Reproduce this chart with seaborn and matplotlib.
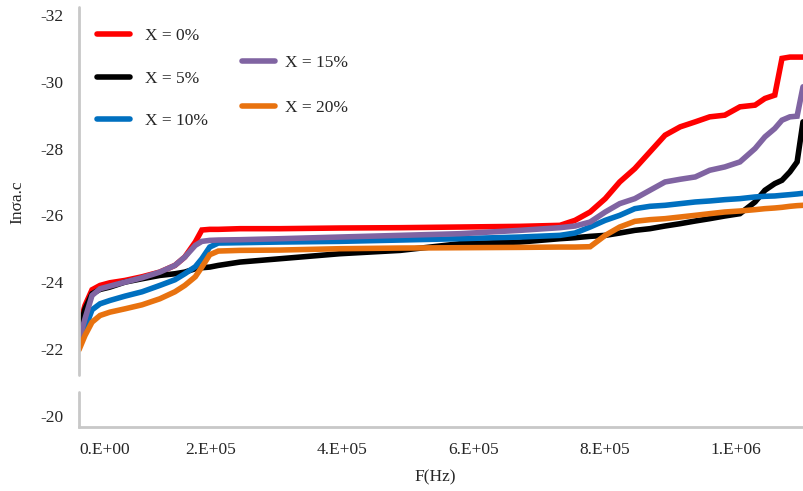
import numpy as np
import pandas as pd
import matplotlib
matplotlib.use("Agg")
import matplotlib.pyplot as plt
from matplotlib.lines import Line2D
import seaborn as sns

# ---------------- data ----------------
freq = [0, 9.1e3, 1.98e4, 3.2e4, 4.7e4, 7.0e4, 9.6e4, 1.23e5, 1.46e5, 1.61e5,
        1.77e5, 1.87e5, 1.99e5, 2.12e5, 2.45e5, 3.06e5, 3.97e5, 4.89e5, 5.80e5, 6.71e5,
        7.32e5, 7.55e5, 7.78e5, 8.01e5, 8.23e5, 8.46e5, 8.69e5, 8.92e5, 9.15e5, 9.38e5,
        9.60e5, 9.83e5, 1.006e6, 1.029e6, 1.044e6, 1.059e6, 1.070e6, 1.082e6, 1.093e6, 1.102e6]

x0 = [-22.66, -23.3, -23.77, -23.9, -23.98, -24.05, -24.16, -24.3, -24.5, -24.75,
      -25.2, -25.56, -25.58, -25.58, -25.6, -25.6, -25.62, -25.63, -25.65, -25.67,
      -25.7, -25.85, -26.1, -26.5, -27.0, -27.4, -27.9, -28.4, -28.65, -28.8,
      -28.95, -29.0, -29.25, -29.3, -29.5, -29.6, -30.7, -30.74, -30.74, -30.74]

x5 = [-22.5, -23.2, -23.65, -23.78, -23.85, -24.0, -24.1, -24.2, -24.25, -24.3,
      -24.4, -24.43, -24.45, -24.5, -24.6, -24.7, -24.85, -24.95, -25.15, -25.2,
      -25.3, -25.33, -25.37, -25.4, -25.47, -25.55, -25.6, -25.68, -25.75, -25.83,
      -25.9, -25.98, -26.05, -26.4, -26.75, -26.95, -27.05, -27.3, -27.6, -28.8]

x10 = [-22.06, -22.6, -23.17, -23.35, -23.45, -23.58, -23.71, -23.9, -24.07, -24.25,
       -24.46, -24.7, -25.05, -25.17, -25.18, -25.2, -25.22, -25.26, -25.3, -25.35,
       -25.4, -25.47, -25.65, -25.85, -26.0, -26.2, -26.27, -26.3, -26.35, -26.4,
       -26.43, -26.47, -26.5, -26.55, -26.57, -26.58, -26.6, -26.62, -26.64, -26.66]

x15 = [-22.27, -22.9, -23.6, -23.8, -23.88, -24.0, -24.13, -24.3, -24.5, -24.75,
       -25.1, -25.22, -25.25, -25.26, -25.27, -25.3, -25.35, -25.4, -25.45, -25.55,
       -25.63, -25.68, -25.8, -26.1, -26.35, -26.5, -26.75, -27.0, -27.08, -27.15,
       -27.35, -27.45, -27.6, -28.0, -28.35, -28.6, -28.85, -28.95, -28.97, -29.85]

x20 = [-21.97, -22.4, -22.8, -23.0, -23.1, -23.2, -23.32, -23.5, -23.71, -23.9,
       -24.16, -24.45, -24.82, -24.93, -24.95, -24.96, -25.0, -25.02, -25.03, -25.04,
       -25.05, -25.05, -25.06, -25.4, -25.65, -25.82, -25.87, -25.9, -25.95, -26.0,
       -26.05, -26.1, -26.13, -26.17, -26.2, -26.22, -26.24, -26.27, -26.29, -26.3]

labels = ["X = 0%", "X = 5%", "X = 10%", "X = 15%", "X = 20%"]
series = [x0, x5, x10, x15, x20]
colors = ["#FF0000", "#000000", "#0070C0", "#8064A2", "#E8720F"]

xtick_vals = [0, 2e5, 4e5, 6e5, 8e5, 1e6]
xtick_labels = ["0.E+00", "2.E+05", "4.E+05", "6.E+05", "8.E+05", "1.E+06"]
ytick_vals = [-32, -30, -28, -26, -24, -22, -20]
ytick_labels = ["-32", "-30", "-28", "-26", "-24", "-22", "-20"]

# ---------------- plot ----------------
sns.set_style("white")
plt.rcParams["font.family"] = ["Liberation Serif", "DejaVu Serif"]
FS = 12.5

fig = plt.figure(figsize=(8.04, 4.91), dpi=100)
ax = fig.add_axes([79 / 804, 1 - 427 / 491, 1 - 79 / 804, (427 - 7) / 491])

df = pd.concat([pd.DataFrame({"F": freq, "val": s, "series": lab})
                for s, lab in zip(series, labels)], ignore_index=True)
for lab, col in zip(labels, colors):
    sub = df[df["series"] == lab]
    sns.lineplot(data=sub, x="F", y="val", ax=ax, color=col, lw=4.0,
                 label=lab, solid_joinstyle="miter", legend=False)

ax.set_xlim(0, 1.1035e6)
ax.set_ylim(-19.66, -32.24)

ax.set_xticks(xtick_vals)
ax.set_xticklabels(xtick_labels, fontsize=FS)
ax.get_xticklabels()[0].set_horizontalalignment("left")
ax.set_yticks(ytick_vals)
ax.set_yticklabels(ytick_labels, fontsize=FS)
ax.tick_params(axis="both", length=0)
ax.tick_params(axis="x", pad=11)
ax.tick_params(axis="y", pad=11)

ax.set_xlabel("F(Hz)", fontsize=FS)
ax.xaxis.set_label_coords(0.491, -0.1)
ax.set_ylabel("Inσa.c", fontsize=FS)
ax.yaxis.set_label_coords(-0.0745, 0.536)

for sp in ["top", "right", "left"]:
    ax.spines[sp].set_visible(False)
ax.spines["bottom"].set_color("#C8C8C8")
ax.spines["bottom"].set_linewidth(2)
for y0, y1 in [(0.0, 0.083), (0.124, 1.0)]:
    ax.add_line(Line2D([0, 0], [y0, y1], transform=ax.transAxes, color="#C8C8C8",
                       lw=2, clip_on=False))

handles = [Line2D([], [], color=c, lw=4.0) for c in colors]
leg1 = fig.legend(handles[:3], labels[:3], loc="upper left",
                  bbox_to_anchor=(97 / 804, 1 - 28 / 491), frameon=False,
                  fontsize=FS, handlelength=1.9, handletextpad=0.85,
                  labelspacing=1.52, borderpad=0, borderaxespad=0)
leg2 = fig.legend(handles[3:], labels[3:], loc="upper left",
                  bbox_to_anchor=(242 / 804, 1 - 55 / 491), frameon=False,
                  fontsize=FS, handlelength=1.9, handletextpad=0.57,
                  labelspacing=1.68, borderpad=0, borderaxespad=0)

fig.savefig("out.png", dpi=100)
